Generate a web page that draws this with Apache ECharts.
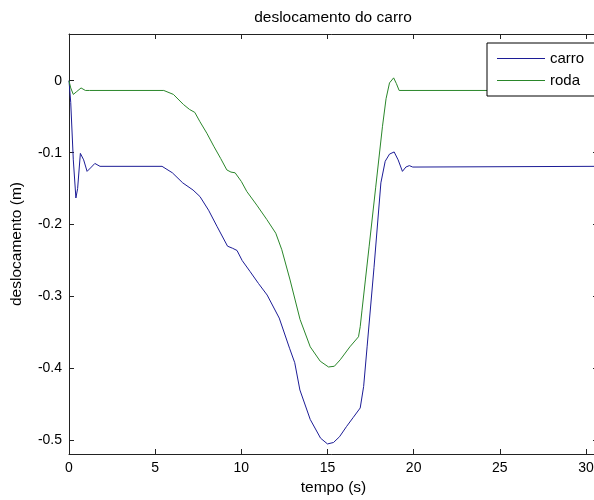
<!DOCTYPE html>
<html>
<head>
<meta charset="utf-8">
<title>deslocamento do carro</title>
<script type="text/javascript" src="https://cdn.jsdelivr.net/npm/echarts@6/dist/echarts.min.js"></script>
<style type="text/css">
html, body {margin: 0; padding: 0; background: #fff;}
#main {width: 594px; height: 500px;}
</style>
</head>
<body>
<div id="main"></div>
<script type="text/javascript">
// dados
var tCarro = [0, 0.1, 0.25, 0.4, 0.5, 0.66, 0.85, 1.05, 1.3, 1.5, 1.8, 5.4, 6.0, 6.6, 7.2, 7.6, 8.1, 8.6, 9.2, 9.5, 9.75, 10.05,
    10.5, 11.0, 11.5, 12.2, 12.8, 13.1, 13.4, 14.0, 14.6, 15.0, 15.35, 15.7, 16.1, 16.5, 16.9, 17.1, 17.3, 17.7, 18.1, 18.35,
    18.6, 18.87, 19.1, 19.35, 19.55, 19.75, 19.95, 30.7];
var yCarro = [0, -0.03, -0.11, -0.163, -0.15, -0.101, -0.11, -0.126, -0.12, -0.115, -0.119, -0.119, -0.128, -0.142, -0.152,
    -0.161, -0.18, -0.203, -0.23, -0.233, -0.236, -0.25, -0.265, -0.282, -0.298, -0.33, -0.372, -0.392, -0.43, -0.471, -0.497,
    -0.505, -0.503, -0.495, -0.481, -0.468, -0.455, -0.425, -0.37, -0.26, -0.142, -0.112, -0.102, -0.099, -0.11, -0.126,
    -0.12, -0.118, -0.12, -0.119];
var tRoda = [0, 0.1, 0.25, 0.45, 0.7, 0.95, 1.2, 5.5, 6.06, 6.64, 7.0, 7.3, 7.6, 8.0, 8.4, 8.8, 9.16, 9.4, 9.64, 10.0, 10.32,
    10.9, 11.48, 12.0, 12.35, 12.83, 13.41, 14.0, 14.58, 15.06, 15.4, 15.74, 16.3, 16.8, 16.9, 17.0, 17.2, 17.42, 17.8, 18.19,
    18.4, 18.6, 18.84, 19.0, 19.16, 30.7];
var yRoda = [0, -0.01, -0.019, -0.015, -0.01, -0.0135, -0.0135, -0.0135, -0.019, -0.033, -0.04, -0.044, -0.057, -0.073,
    -0.091, -0.108, -0.124, -0.127, -0.128, -0.14, -0.154, -0.173, -0.193, -0.212, -0.235, -0.277, -0.332, -0.37, -0.39,
    -0.398, -0.397, -0.388, -0.37, -0.356, -0.342, -0.32, -0.277, -0.23, -0.148, -0.064, -0.025, -0.003, 0.004, -0.004,
    -0.0135, -0.0135];
var xTicks = [0, 5, 10, 15, 20, 25, 30];
var yTicks = [-0.5, -0.4, -0.3, -0.2, -0.1, 0];

function pares(t, y) {
    return t.map(function (v, i) { return [v, y[i]]; });
}

var fonte = '"Liberation Sans", Arial, sans-serif';
var corEixo = '#222';

function eixoX(pos, comLabel) {
    return {
        type: 'value', position: pos, min: 0, max: 30.7,
        axisLine: {show: true, onZero: false, lineStyle: {color: corEixo, width: 1}},
        axisTick: {show: true, inside: true, length: 5, customValues: xTicks, lineStyle: {color: corEixo}},
        axisLabel: {show: comLabel, customValues: xTicks, margin: 7, color: '#000', fontSize: 14, fontFamily: fonte},
        splitLine: {show: false}
    };
}
function eixoY(pos, comLabel) {
    return {
        type: 'value', position: pos, min: -0.519, max: 0.065,
        axisLine: {show: true, onZero: false, lineStyle: {color: corEixo, width: 1}},
        axisTick: {show: true, inside: true, length: 5, customValues: yTicks, lineStyle: {color: corEixo}},
        axisLabel: {
            show: comLabel, customValues: yTicks, margin: 7, color: '#000', fontSize: 14, fontFamily: fonte,
            formatter: function (v) { return Math.abs(v) < 1e-9 ? '0' : v.toFixed(1); }
        },
        splitLine: {show: false}
    };
}

var xBase = eixoX('bottom', true);
xBase.name = 'tempo (s)';
xBase.nameLocation = 'middle';
xBase.nameGap = 26;
xBase.nameTextStyle = {color: '#000', fontSize: 15.5, fontFamily: fonte};

var yBase = eixoY('left', true);
yBase.name = 'deslocamento (m)';
yBase.nameLocation = 'middle';
yBase.nameGap = 44;
yBase.nameTextStyle = {color: '#000', fontSize: 15.5, fontFamily: fonte};

var myChart = echarts.init(document.getElementById('main'), null, {renderer: 'canvas'});
var option = {
    backgroundColor: '#fff',
    animation: false,
    title: {
        text: 'deslocamento do carro',
        left: 333, top: 10, padding: 0, textAlign: 'center',
        textStyle: {color: '#000', fontSize: 15.5, fontWeight: 'normal', fontFamily: fonte}
    },
    legend: {
        orient: 'vertical',
        left: 487, top: 43,
        padding: [8, 16, 8, 10],
        icon: 'rect',
        itemWidth: 48, itemHeight: 1, itemGap: 7,
        backgroundColor: '#fff', borderColor: '#000', borderWidth: 1, borderRadius: 0,
        textStyle: {color: '#000', fontSize: 15, fontFamily: fonte},
        data: ['carro', 'roda']
    },
    grid: {left: 69, top: 34, width: 529, height: 420, containLabel: false, outerBoundsMode: 'none'},
    xAxis: [xBase, eixoX('top', false)],
    yAxis: [yBase, eixoY('right', false)],
    series: [
        {
            name: 'carro', type: 'line', xAxisIndex: 0, yAxisIndex: 0,
            showSymbol: false, symbol: 'none',
            lineStyle: {color: '#1c1c96', width: 1}, itemStyle: {color: '#1c1c96'},
            data: pares(tCarro, yCarro)
        },
        {
            name: 'roda', type: 'line', xAxisIndex: 0, yAxisIndex: 0,
            showSymbol: false, symbol: 'none',
            lineStyle: {color: '#2a862a', width: 1}, itemStyle: {color: '#2a862a'},
            data: pares(tRoda, yRoda)
        }
    ]
};
myChart.setOption(option);
</script>
</body>
</html>
